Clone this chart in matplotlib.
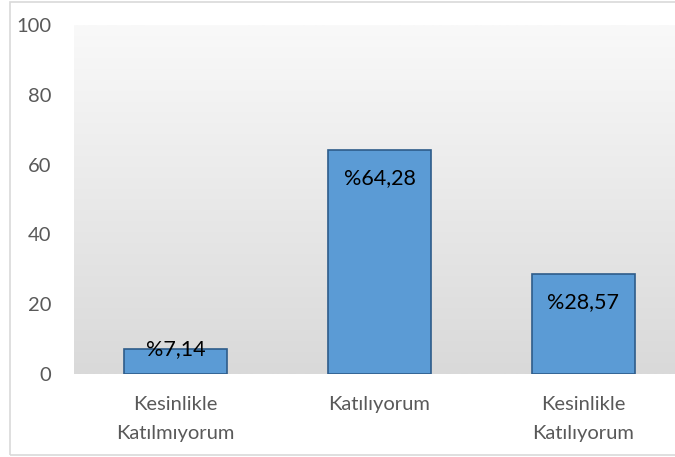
import numpy as np
import matplotlib.pyplot as plt
from matplotlib.patches import Rectangle

# Veriler
categories = ['Kesinlikle\nKatılmıyorum', 'Katılıyorum', 'Kesinlikle\nKatılıyorum']
values = [7.14, 64.28, 28.57]
labels = ['%7,14', '%64,28', '%28,57']
yticks = [0, 20, 40, 60, 80, 100]

plt.rcParams['font.family'] = ['Lato', 'DejaVu Sans']

fig = plt.figure(figsize=(6.75, 4.57), dpi=100)

# dış çerçeve (sağ kenar resim dışında kalıyor)
fig.patches.append(Rectangle((10 / 675, 2 / 457), 1.2, 453 / 457,
                             transform=fig.transFigure, fill=False,
                             edgecolor='#D9D9D9', lw=1.2))

ax = fig.add_axes([73.5 / 675, 1 - 374 / 457, 612 / 675, 349 / 457])

# gradyan arka plan
grad = np.linspace(0, 1, 256).reshape(-1, 1)
ax.imshow(grad, extent=[0, 1, 0, 1], transform=ax.transAxes, aspect='auto',
          cmap=plt.matplotlib.colors.LinearSegmentedColormap.from_list(
              'g', ['#F9F9F9', '#D9D9D9']), zorder=0)

x = np.arange(len(categories))
bars = ax.bar(x, values, width=0.505, color='#5B9BD5', edgecolor='#2E5C8A',
              lw=1.2, zorder=2)

for b, v, lab in zip(bars, values, labels):
    off = -28 if v > 15 else 0
    ax.annotate(lab, (b.get_x() + b.get_width() / 2, v), xytext=(0, off * 0.72),
                textcoords='offset points', ha='center', va='center',
                fontsize=15.5, color='black', zorder=3)

ax.set_xlim(-0.5, 2.5)
ax.set_ylim(0, 100)
ax.set_yticks(yticks)
ax.set_xticks(x)
ax.set_xticklabels(categories, linespacing=1.85)
ax.tick_params(axis='both', length=0, labelsize=14.5, colors='#595959')
ax.tick_params(axis='y', pad=16)
ax.tick_params(axis='x', pad=16)
for s in ax.spines.values():
    s.set_visible(False)

fig.savefig('out.png', dpi=100)
